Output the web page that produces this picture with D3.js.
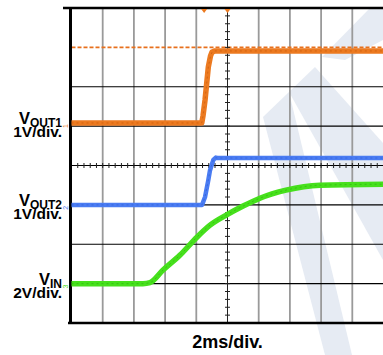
<!DOCTYPE html>
<html>
<head>
<meta charset="utf-8">
<script src="https://cdn.jsdelivr.net/npm/d3@7"></script>
<style>
body { margin: 0; background: #fff; }
svg { display: block; }
text { font-family: "Liberation Sans", Arial, sans-serif; font-weight: bold; fill: #000; }
</style>
</head>
<body>
<svg width="383" height="355"></svg>
<script>
// scope settings: 10 horizontal divisions of 2 ms, 8 vertical divisions
let timeTicks = [0, 2, 4, 6, 8, 10, 12, 14, 16, 18, 20]
let divTicks = [0, 1, 2, 3, 4, 5, 6, 7, 8]

// VOUT1, 1V/div
let vout1Time = [0, 8.35, 8.43, 8.56, 8.77, 8.91, 9.01, 9.2, 20]
let vout1Volts = [0, 0, 0.18, 0.58, 1.42, 1.70, 1.80, 1.83, 1.83]

// VOUT2, 1V/div
let vout2Time = [0, 8.37, 8.56, 8.77, 8.88, 9.09, 9.25, 9.35, 20]
let vout2Volts = [0, 0, 0.2, 0.63, 0.88, 1.14, 1.2, 1.19, 1.19]

// VIN, 2V/div
let vinTime = [0, 4.58, 5.03, 5.87, 6.96, 8.04, 8.88, 10.03, 11.0, 12.08, 13.75, 15.93, 20]
let vinVolts = [0, 0, 0.05, 0.69, 1.45, 2.36, 2.97, 3.53, 3.94, 4.34, 4.75, 5.0, 5.05]

let channels = [
    {name: 'VIN', sub: 'IN', scale: '2V/div.', time: vinTime, volts: vinVolts, perDiv: 2, offset: 1.0, color: '#46e01c', dark: '#2fb80c', mark: '3'},
    {name: 'VOUT2', sub: 'OUT2', scale: '1V/div.', time: vout2Time, volts: vout2Volts, perDiv: 1, offset: 3.0, color: '#4a7cf2', dark: '#2f5fd8', mark: '2'},
    {name: 'VOUT1', sub: 'OUT1', scale: '1V/div.', time: vout1Time, volts: vout1Volts, perDiv: 1, offset: 5.08, color: '#ec7a20', dark: '#c85a0c', mark: '1'}
]

let svg = d3.select('svg')

let x = d3.scaleLinear().domain([0, 20]).range([71.5, 383.5])
let y = d3.scaleLinear().domain([0, 8]).range([323, 8])

// faint watermark behind the screen
let marks = [
    [[263,117],[289,92],[352,355],[325,355]],
    [[289,92],[315,67],[383,143],[383,260]],
    [[322,57],[370,8],[383,8],[383,40],[345,60]]
]
svg.selectAll('.wm')
    .data(marks)
    .enter().append('polygon')
    .attr('class', 'wm')
    .attr('points', d => d.join(' '))
    .attr('fill', '#e6ebf3')

// grid
svg.selectAll('.vgrid')
    .data(timeTicks.slice(1, -1).filter(d => d != 10))
    .enter().append('line')
    .attr('x1', d => x(d)).attr('x2', d => x(d))
    .attr('y1', y(8)).attr('y2', y(0))
    .attr('stroke', '#9a9a9a')
    .attr('stroke-width', 1.8)

svg.selectAll('.hgrid')
    .data(divTicks.slice(1, -1))
    .enter().append('line')
    .attr('x1', x(0)).attr('x2', 383)
    .attr('y1', d => y(d)).attr('y2', d => y(d))
    .attr('stroke', d => d == 7 ? '#e8701c' : '#000')
    .attr('stroke-dasharray', d => d == 7 ? '4,2' : null)
    .attr('stroke-width', d => d == 7 ? 1.6 : 1.1)

// center axes with minor ticks
svg.append('line')
    .attr('x1', x(10)).attr('x2', x(10))
    .attr('y1', y(8)).attr('y2', y(0))
    .attr('stroke', '#222').attr('stroke-width', 1)

svg.selectAll('.tickx')
    .data(d3.range(1, 50).map(i => i * 0.4))
    .enter().append('line')
    .attr('x1', d => x(d)).attr('x2', d => x(d))
    .attr('y1', y(4) - 2.5).attr('y2', y(4) + 2.5)
    .attr('stroke', '#222').attr('stroke-width', 1)

svg.selectAll('.ticky')
    .data(d3.range(1, 40).map(i => i * 0.2))
    .enter().append('line')
    .attr('x1', x(10) - 2.5).attr('x2', x(10) + 2.5)
    .attr('y1', d => y(d)).attr('y2', d => y(d))
    .attr('stroke', '#222').attr('stroke-width', 1)

// frame
svg.append('line').attr('x1', 63).attr('x2', 383).attr('y1', y(8)).attr('y2', y(8))
    .attr('stroke', '#000').attr('stroke-width', 2.5)
svg.append('line').attr('x1', 68).attr('x2', 383).attr('y1', y(0)).attr('y2', y(0))
    .attr('stroke', '#000').attr('stroke-width', 2.5)
svg.append('line').attr('x1', 70.5).attr('x2', 70.5).attr('y1', y(8) - 1).attr('y2', y(0) + 1)
    .attr('stroke', '#000').attr('stroke-width', 3)

// traces
channels.forEach(ch => {
    let pts = ch.time.map((t, i) => [t, ch.volts[i]])
    let line = d3.line()
        .x(d => x(d[0]))
        .y(d => y(ch.offset + d[1] / ch.perDiv))
        .curve(ch.name == 'VIN' ? d3.curveMonotoneX : d3.curveLinear)
    svg.append('path')
        .attr('d', line(pts))
        .attr('fill', 'none')
        .attr('stroke', ch.color)
        .attr('stroke-width', ch.name == 'VOUT2' ? 4.5 : 5.5)
        .attr('stroke-linejoin', 'round')
    svg.append('path')
        .attr('d', line(pts))
        .attr('fill', 'none')
        .attr('stroke', ch.dark)
        .attr('stroke-width', 1)
        .attr('stroke-dasharray', '2,3')
        .attr('opacity', 0.7)

    // ground marker on the left edge
    svg.append('text')
        .attr('transform', `translate(68, ${y(ch.offset) + 3}) rotate(-90)`)
        .attr('text-anchor', 'middle')
        .style('font-size', '7px')
        .style('font-weight', 'normal')
        .style('fill', ch.color)
        .text(ch.mark)

    // label
    let base = y(ch.offset)
    let lbl = svg.append('text')
        .attr('x', 62)
        .attr('y', base + 1)
        .attr('text-anchor', 'end')
        .style('font-size', '16.5px')
    lbl.append('tspan').text('V')
    lbl.append('tspan').attr('dy', 3).style('font-size', '12px').text(ch.sub)
    svg.append('text')
        .attr('x', 62)
        .attr('y', base + 14)
        .attr('text-anchor', 'end')
        .style('font-size', '15.5px')
        .text(ch.scale)
})

// trigger markers at the top
svg.selectAll('.trig')
    .data([8.5, 10])
    .enter().append('path')
    .attr('d', d => `M${x(d) - 3},${y(8) + 1}L${x(d) + 3},${y(8) + 1}L${x(d)},${y(8) + 5}Z`)
    .attr('fill', '#ec7a20')

svg.append('text')
    .attr('x', x(10))
    .attr('y', 348)
    .attr('text-anchor', 'middle')
    .style('font-size', '18px')
    .text('2ms/div.')
</script>
</body>
</html>
